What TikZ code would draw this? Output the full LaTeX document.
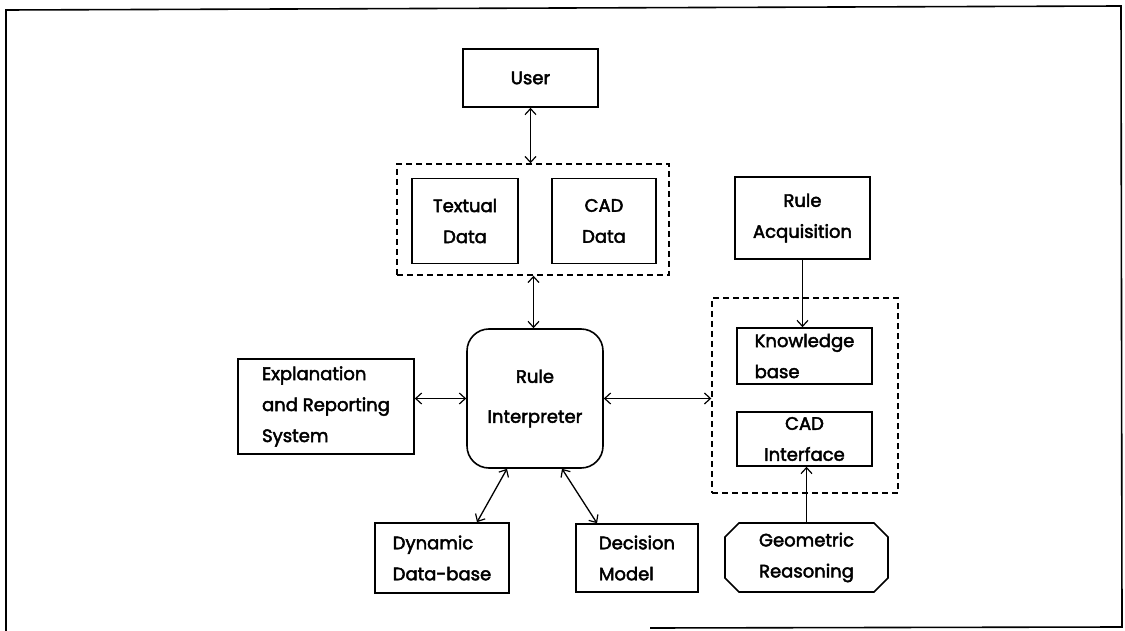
\documentclass[tikz,border=0pt]{standalone}
\usepackage{fontspec}
\newfontfamily\boxfont{Poppins}[FakeBold=2.5]
\usetikzlibrary{arrows.meta,shapes.misc,calc}
\begin{document}
\begin{tikzpicture}[x=1pt,y=-1pt,
  box/.style={draw,line width=1.6pt,align=center,inner sep=0pt,
    font=\boxfont\fontsize{18}{31}\selectfont},
  dbox/.style={draw,line width=1.4pt,dash pattern=on 6pt off 4pt,inner sep=0pt},
  tip/.tip={Straight Barb[length=6pt,width=11pt,line width=1.2pt]},
  link/.style={line width=1.3pt,tip-tip},
  onelink/.style={line width=1.3pt,-tip},
  frame/.style={line width=1.6pt}
]
\useasboundingbox (0,0) rectangle (1125,631);
\fill[white] (0,0) rectangle (1125,631);

% page frame
\coordinate (ftl) at (6,10);
\coordinate (ftr) at (1121,6);
\coordinate (fbr) at (1122,627);
\coordinate (fbl) at (6,631);
\coordinate (fbm) at (650,628);
\draw[frame] (fbl) -- (ftl) -- (ftr) -- (fbr) -- (fbm);

% nodes
\node[box,minimum width=135pt,minimum height=58pt] (user) at (530.5,78) {User};
\node[dbox,minimum width=272pt,minimum height=111pt] (top) at (533,219.5) {};
\node[box,minimum width=106pt,minimum height=85pt] (txt) at (465,221) {Textual\\Data};
\node[box,minimum width=104pt,minimum height=85pt] (cad) at (604,221) {CAD\\Data};
\node[box,minimum width=136pt,minimum height=139pt,rounded corners=22pt,
  font=\boxfont\fontsize{18}{40}\selectfont] (ri) at (535,398.5) {Rule\\Interpreter};
\node[box,align=left,minimum width=176pt,minimum height=95pt] (exp) at (326,406.5)
  {Explanation\\and Reporting\\System};
\node[box,align=left,minimum width=134pt,minimum height=70pt] (dyn) at (442,558) {Dynamic\\Data-base};
\node[box,align=left,minimum width=122pt,minimum height=68pt] (dec) at (637,558) {Decision\\Model};
\node[box,minimum width=135pt,minimum height=82pt] (acq) at (802.5,218) {Rule\\Acquisition};
\node[dbox,minimum width=186pt,minimum height=195pt] (rdash) at (805,395.5) {};
\node[box,align=left,minimum width=135pt,minimum height=56pt] (kb) at (804.5,356) {Knowledge\\base};
\node[box,minimum width=135pt,minimum height=54pt] (cadi) at (804.5,439) {CAD\\Interface};
\node[box,chamfered rectangle,chamfered rectangle xsep=7pt,chamfered rectangle ysep=7pt,
  minimum width=163pt,minimum height=69pt] (geo) at (806.5,557.5) {Geometric\\Reasoning};

% connectors
\draw[link] (user.south) -- (user.south |- top.north);
\draw[link] ($(ri.north |- top.south)+(-1.5,0)$) -- ($(ri.north)+(-1.5,0)$);
\draw[link] (exp.east |- ri.west) -- (ri.west);
\draw[link] (ri.east) -- (rdash.west |- ri.east);
\draw[link] ($(ri.south)+(-28,0)$) -- ($(dyn.north)+(35,0)$);
\draw[link] ($(ri.south)+(27,0)$) -- ($(dec.north)+(-40,0)$);
\draw[onelink] (acq.south) -- (acq.south |- kb.north);
\draw[onelink] (geo.north) -- (geo.north |- cadi.south);
\end{tikzpicture}
\end{document}
